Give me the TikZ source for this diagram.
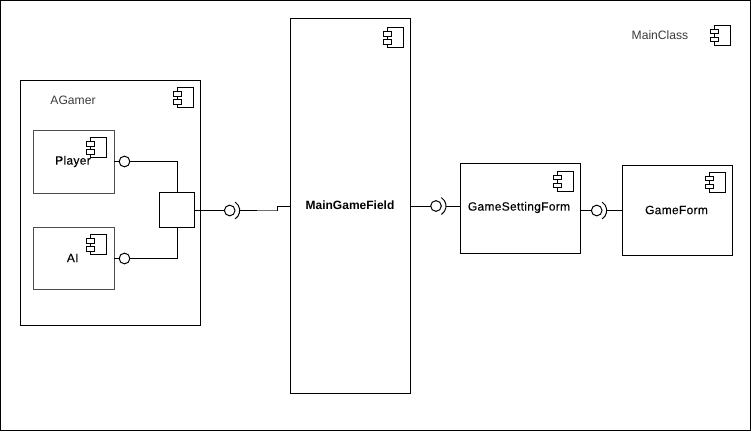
\documentclass[tikz,border=0pt]{standalone}
\usepackage{fontspec}
\setmainfont{Liberation Sans}
\newfontfamily\semibold[FakeBold=0.2,LetterSpace=2.5]{Liberation Sans}
\definecolor{softgray}{RGB}{110,110,110}
\definecolor{txtgray}{RGB}{60,60,60}
\tikzset{
  x=0.75pt,y=-0.75pt,
  every path/.style={line width=0.75pt},
  box/.style={draw=black,fill=white,rectangle,inner sep=0pt,outer sep=0pt},
  softbox/.style={box,draw=softgray!70!black},
  lollipop/.style={draw=black,fill=white,circle,inner sep=0pt,outer sep=0pt,minimum size=8pt},
  link/.style={draw=black},
  softlink/.style={draw=softgray},
  lbl/.style={font=\fontsize{9pt}{11pt}\selectfont\semibold,text=black,inner sep=0pt},
  lblb/.style={font=\fontsize{9pt}{11pt}\selectfont\bfseries,text=black,inner sep=0pt},
  lblg/.style={font=\fontsize{9.1pt}{11pt}\selectfont,text=txtgray,inner sep=0pt},
  pics/compicon/.style={code={
    \draw[fill=white] (4,0) rectangle (20,20);
    \draw[fill=white] (0,4) rectangle (8,8.5);
    \draw[fill=white] (0,12) rectangle (8,16.5);
  }}
}
\begin{document}
\begin{tikzpicture}
\useasboundingbox (0,0) rectangle (751,432);
\fill[white] (0,0) rectangle (751,432);
\node[box,anchor=north west,minimum width=749.5*0.75pt,minimum height=430*0.75pt] (frame) at (0.5,0.5) {};

% containers
\node[box,anchor=north west,minimum width=180*0.75pt,minimum height=245*0.75pt] (agamer) at (20.5,80.5) {};
\node[softbox,anchor=north west,minimum width=80.5*0.75pt,minimum height=62.5*0.75pt] (player) at (33.5,130.5) {};
\node[softbox,anchor=north west,minimum width=80.5*0.75pt,minimum height=62*0.75pt] (ai) at (33.5,227.5) {};
\node[box,anchor=north west,minimum width=35*0.75pt,minimum height=35*0.75pt] (port) at (159.5,192.5) {};
\node[box,anchor=north west,minimum width=120*0.75pt,minimum height=374.5*0.75pt] (field) at (290.5,18.5) {};
\node[box,anchor=north west,minimum width=120*0.75pt,minimum height=90*0.75pt] (setting) at (460.5,163.5) {};
\node[box,anchor=north west,minimum width=110*0.75pt,minimum height=90*0.75pt] (form) at (622.5,165.5) {};

% component icons
\pic at (173,87.5) {compicon};
\pic at (86.5,137.5) {compicon};
\pic at (86.5,234.5) {compicon};
\pic at (383,27.5) {compicon};
\pic at (553,171) {compicon};
\pic at (705.5,172) {compicon};
\pic at (710.5,25) {compicon};

% lollipops
\node[lollipop] (lp) at (124.5,161.5) {};
\node[lollipop] (la) at (124.5,258.5) {};
\node[lollipop] (l1) at (229.7,210.5) {};
\node[lollipop] (l2) at (436,206) {};
\node[lollipop] (l3) at (596.7,210.5) {};

% inner connectors
\draw[link] (player.east |- lp) -- (lp.west);
\draw[link] (lp.east) -| (port.north -| 177.5,0);
\draw[link] (ai.east |- la) -- (la.west);
\draw[link] (la.east) -| (port.south -| 177.5,0);

% sockets
\draw[link] (l1.center) ++(58:10) arc[start angle=58,end angle=-58,radius=10];
\draw[link] (l2.center) ++(58:10) arc[start angle=58,end angle=-58,radius=10];
\draw[link] (l3.center) ++(58:10) arc[start angle=58,end angle=-58,radius=10];

% outer connectors
\coordinate (bend1) at (257,210.5);
\coordinate (bend2) at (277.5,210.5);
\coordinate (bend3) at (277.5,206);
\draw[link] (port.east |- l1) -- (l1.west);
\draw[link] (l1.east -| 240,0) -- (bend1);
\draw[softlink] (bend1) -- (bend2);
\draw[link] (bend2) -- (bend3) -- (field.west |- bend3);
\draw[link] (field.east |- l2) -- (l2.west);
\draw[link] (l2.east -| 446,0) -- (setting.west |- l2);
\draw[link] (setting.east |- l3) -- (l3.west);
\draw[link] (l3.east -| 606.7,0) -- (form.west |- l3);

% labels
\node[lblg] (tagamer) at (73,100) {AGamer};
\node[lbl] (tplayer) at (73,161.5) {Player};
\node[lbl] (tai) at (72.7,258) {AI};
\node[lblb] (tfield) at (350,205.5) {MainGameField};
\node[lbl] (tsetting) at (519,207.5) {GameSettingForm};
\node[lbl] (tform) at (676.5,210) {GameForm};
\node[lblg] (tmain) at (660,35) {MainClass};
\end{tikzpicture}
\end{document}
